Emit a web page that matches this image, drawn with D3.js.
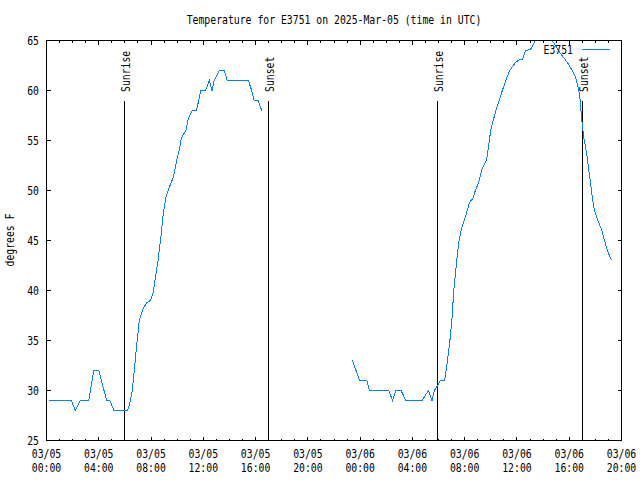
<!DOCTYPE html>
<html><head><meta charset="utf-8">
<script src="https://cdn.jsdelivr.net/npm/d3@7"></script>
<style>body{margin:0;background:#fff}svg{display:block}</style>
</head><body><svg id="c" width="640" height="480"></svg>
<script>
// ---- data ----
const seg1Times = ["03-05 00:10","03-05 01:54","03-05 02:12","03-05 02:36","03-05 03:14","03-05 03:37","03-05 04:00","03-05 04:18","03-05 04:36","03-05 04:51","03-05 05:10","03-05 06:11","03-05 06:20","03-05 06:34","03-05 06:43","03-05 06:53","03-05 07:06","03-05 07:24","03-05 07:40","03-05 07:58","03-05 08:10","03-05 08:18","03-05 08:32","03-05 08:46","03-05 08:56","03-05 09:08","03-05 09:27","03-05 09:42","03-05 09:58","03-05 10:12","03-05 10:20","03-05 10:40","03-05 10:51","03-05 11:10","03-05 11:29","03-05 11:48","03-05 12:10","03-05 12:28","03-05 12:40","03-05 12:50","03-05 13:13","03-05 13:36","03-05 13:50","03-05 15:27","03-05 15:42","03-05 15:53","03-05 16:12","03-05 16:28"];
const seg1Temps = [29,29,28,29,29,32,32,30.5,29,29,28,28,28.5,30,32,34.3,37,38.2,38.8,39,39.8,41,43,45.5,47.7,49.3,50.5,51.3,53,54.3,55.3,56,57.2,58,58,60,60,61,60,61,62,62,61,61,60,59,59,58];
const seg2Times = ["03-05 23:25","03-05 23:46","03-05 23:57","03-06 00:31","03-06 00:43","03-06 02:11","03-06 02:29","03-06 02:44","03-06 03:08","03-06 03:30","03-06 04:44","03-06 05:14","03-06 05:30","03-06 05:41","03-06 05:56","03-06 06:08","03-06 06:28","03-06 06:39","03-06 06:51","03-06 07:02","03-06 07:10","03-06 07:22","03-06 07:32","03-06 07:45","03-06 08:03","03-06 08:22","03-06 08:37","03-06 08:49","03-06 09:04","03-06 09:20","03-06 09:40","03-06 09:47","03-06 09:53","03-06 10:01","03-06 10:11","03-06 10:26","03-06 10:41","03-06 10:56","03-06 11:12","03-06 11:27","03-06 11:53","03-06 12:13","03-06 12:26","03-06 12:39","03-06 13:02","03-06 13:25","03-06 13:48","03-06 14:12","03-06 14:30","03-06 14:42","03-06 15:05","03-06 15:20","03-06 15:38","03-06 15:54","03-06 16:14","03-06 16:29","03-06 16:41","03-06 16:49","03-06 16:55","03-06 17:01","03-06 17:07","03-06 17:20","03-06 17:30","03-06 17:38","03-06 17:46","03-06 17:56","03-06 18:11","03-06 18:27","03-06 18:42","03-06 18:55","03-06 19:14"];
const seg2Temps = [33,31.7,31,31,30,30,29,30,30,29,29,30,29,30,30.5,31,31,32.7,34.7,37.3,40,42.7,44.7,46.2,47.3,48.8,49.2,50,50.8,52.2,53,54,55,56.2,57,58.2,59.2,60.2,61.2,62,62.8,63.1,63.1,64,64.1,65,65.8,66,65.6,65,64.2,63.7,63.2,62.7,62,61.3,60.3,59.3,57.7,56.3,55.3,53.7,52,50.7,49.3,48,47,46.2,45,44,43];
const sunTimes = ["03-05 05:58","03-05 17:00","03-06 05:55","03-06 17:01"];
const sunLabels = ["Sunrise","Sunset","Sunrise","Sunset"];
const sunTopTemp = 59;
const yTicks = [25,30,35,40,45,50,55,60,65];
const xStart = "03-05 00:00", xEnd = "03-06 20:00";
const seriesName = "E3751";
const titleText = "Temperature for E3751 on 2025-Mar-05 (time in UTC)";
const yLabel = "degrees F";

// ---- chart ----
const parse = d3.utcParse("%Y-%m-%d %H:%M");
const P = s => parse("2025-" + s);
const svg = d3.select("#c");
const L = 46.5, R = 621.5, T = 40.5, B = 440.5;
const x = d3.scaleUtc().domain([P(xStart), P(xEnd)]).range([L, R]);
const y = d3.scaleLinear().domain([25, 65]).range([B, T]);
const FONT = "DejaVu Sans Mono";
const SX = 5.9 / 7.22;   // narrow, tall bitmap-like glyphs
function txt(s, px, py, anchor, rot) {
  const g = svg.append("g")
    .attr("transform", `translate(${px},${py})` + (rot ? ` rotate(${rot})` : "") + ` scale(${SX},1)`);
  g.append("text").text(s)
    .attr("font-family", FONT).attr("font-size", 12).attr("fill", "#000")
    .attr("text-anchor", anchor || "start");
  return g;
}

// ticks
const major = d3.utcHour.every(4).range(P(xStart), d3.utcMinute.offset(P(xEnd), 1));
const minor = d3.utcHour.every(1).range(P(xStart), d3.utcMinute.offset(P(xEnd), 1));
const tg = svg.append("g").attr("stroke", "#000").attr("shape-rendering", "crispEdges");
minor.forEach(d => {
  const len = (d.getUTCHours() % 4 === 0) ? 4 : 2;
  const xx = Math.round(x(d) - 0.5) + 0.5;
  tg.append("line").attr("x1", xx).attr("x2", xx).attr("y1", B).attr("y2", B - len);
  tg.append("line").attr("x1", xx).attr("x2", xx).attr("y1", T).attr("y2", T + len);
});
yTicks.forEach(v => {
  const yy = Math.round(y(v) - 0.5) + 0.5;
  tg.append("line").attr("x1", L).attr("x2", L + 4).attr("y1", yy).attr("y2", yy);
  tg.append("line").attr("x1", R).attr("x2", R - 4).attr("y1", yy).attr("y2", yy);
});

// tick labels
const fmtD = d3.utcFormat("%m/%d"), fmtH = d3.utcFormat("%H:%M");
major.forEach(d => {
  txt(fmtD(d), x(d), 458, "middle");
  txt(fmtH(d), x(d), 472, "middle");
});
yTicks.forEach(v => txt(String(v), 39, y(v) + 4.5, "end"));

// sunrise / sunset
sunTimes.forEach((s, i) => {
  const xx = Math.round(x(P(s)) - 0.5) + 0.5;
  svg.append("line").attr("x1", xx).attr("x2", xx).attr("y1", y(sunTopTemp)).attr("y2", B)
    .attr("stroke", "#000").attr("shape-rendering", "crispEdges");
  txt(sunLabels[i], xx + 5.5, 92, "start", -90);
});

// data
svg.append("clipPath").attr("id", "pc").append("rect")
  .attr("x", L).attr("y", T).attr("width", R - L).attr("height", B - T);
const line = d3.line().x(d => x(d[0])).y(d => y(d[1]));
const segs = [[seg1Times, seg1Temps], [seg2Times, seg2Temps]];
segs.forEach(([ts, vs]) => {
  svg.append("path").datum(ts.map((t, i) => [P(t), vs[i]]))
    .attr("d", line).attr("fill", "none").attr("stroke", "#0080ff").attr("stroke-width", 1)
    .attr("shape-rendering", "crispEdges")
    .attr("clip-path", "url(#pc)");
});

// border
svg.append("rect").attr("x", L).attr("y", T).attr("width", R - L).attr("height", B - T)
  .attr("fill", "none").attr("stroke", "#000").attr("shape-rendering", "crispEdges");

// legend
txt(seriesName, 573, 53.5, "end");
svg.append("line").attr("x1", 582).attr("x2", 610).attr("y1", 49.5).attr("y2", 49.5)
  .attr("stroke", "#0080ff").attr("shape-rendering", "crispEdges");

// title & y label
txt(titleText, 334, 24, "middle");
txt(yLabel, 14, 240, "middle", -90);
</script></body></html>
